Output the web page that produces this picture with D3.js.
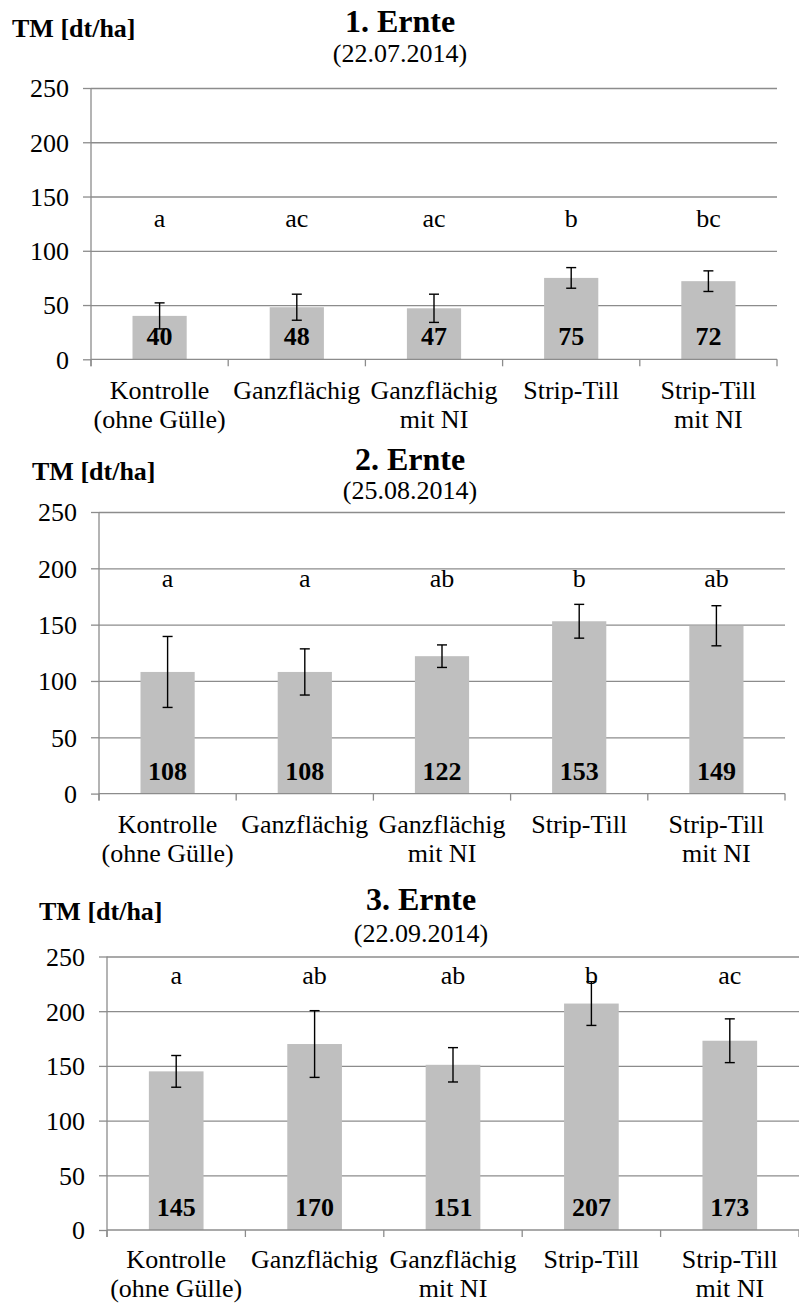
<!DOCTYPE html>
<html lang="de">
<head>
<meta charset="UTF-8">
<title>TM Ernte</title>
<style>
  body { margin: 0; background: #fff; }
  svg text { font-family: "Liberation Serif", "Times New Roman", serif; fill: #000; }
</style>
</head>
<body>
<script src="https://cdn.jsdelivr.net/npm/d3@7"></script>
<script>
// categories (two lines each)
var categories = ["Kontrolle|(ohne Gülle)", "Ganzflächig|", "Ganzflächig|mit NI", "Strip-Till|", "Strip-Till|mit NI"];
var yTicks = [0, 50, 100, 150, 200, 250];

// 1. Ernte
var values1 = [40, 48, 47, 75, 72];
var errors1 = [12, 12, 13, 9.5, 9.5];
var letters1 = ["a", "ac", "ac", "b", "bc"];
// 2. Ernte
var values2 = [108, 108, 122, 153, 149];
var errors2 = [31.5, 20.5, 10, 15, 17.8];
var letters2 = ["a", "a", "ab", "b", "ab"];
// 3. Ernte
var values3 = [145, 170, 151, 207, 173];
var errors3 = [14.5, 30.5, 15.7, 20, 20];
var letters3 = ["a", "ab", "ab", "b", "ac"];

var titles = ["1. Ernte", "2. Ernte", "3. Ernte"];
var dates = ["(22.07.2014)", "(25.08.2014)", "(22.09.2014)"];

// layout of each panel on the page
var panels = [
  {values: values1, errors: errors1, letters: letters1, left: 91, right: 777, top: 88, zero: 359.3,
   tm: [12, 37], titleX: 400, titleY: 32, dateY: 62, letterY: 227, catY: 399},
  {values: values2, errors: errors2, letters: letters2, left: 99, right: 785, top: 512, zero: 793.6,
   tm: [32, 480], titleX: 410, titleY: 470, dateY: 499, letterY: 587, catY: 833},
  {values: values3, errors: errors3, letters: letters3, left: 107, right: 799, top: 956.5, zero: 1230,
   tm: [39, 920], titleX: 421, titleY: 910, dateY: 942, letterY: 984, catY: 1268}
];

var gridColor = "#8c8c8c";
var barColor = "#bfbfbf";

var svg = d3.select("body").append("svg")
  .attr("width", 799)
  .attr("height", 1305);

panels.forEach(function(p, pi) {
  var g = svg.append("g");

  var x = d3.scaleBand()
    .domain(categories)
    .range([p.left, p.right])
    .padding(0);

  var y = d3.scaleLinear()
    .domain([0, 250])
    .range([p.zero, p.top]);

  // gridlines
  g.append("g")
    .attr("transform", "translate(" + p.left + ",0)")
    .call(d3.axisLeft(y).tickValues(yTicks.slice(1)).tickSize(-(p.right - p.left)).tickFormat(""))
    .call(function(s) {
      s.select(".domain").remove();
      s.selectAll("line").attr("stroke", gridColor).attr("stroke-width", 1.3);
    });

  // bars
  var bw = x.bandwidth() * 0.395;
  g.selectAll(".bar")
    .data(p.values)
    .enter()
    .append("rect")
    .attr("class", "bar")
    .attr("x", function(d, i) { return x(categories[i]) + x.bandwidth() / 2 - bw / 2; })
    .attr("y", function(d) { return y(d); })
    .attr("width", bw)
    .attr("height", function(d) { return y(0) - y(d); })
    .attr("fill", barColor);

  // y axis
  var yAxis = g.append("g")
    .attr("transform", "translate(" + p.left + ",0)")
    .call(d3.axisLeft(y).tickValues(yTicks).tickSize(8).tickPadding(14).tickSizeOuter(0));
  yAxis.select(".domain").attr("stroke", gridColor).attr("stroke-width", 1.3)
    .attr("d", "M0," + (y(250)) + "V" + (y(0) + 7));
  yAxis.selectAll(".tick line").attr("stroke", gridColor).attr("stroke-width", 1.3);
  yAxis.selectAll(".tick text").style("font-size", "26px").attr("dy", "0.34em");

  // x axis line and boundary ticks
  g.append("line")
    .attr("x1", p.left).attr("x2", p.right)
    .attr("y1", y(0)).attr("y2", y(0))
    .attr("stroke", gridColor).attr("stroke-width", 1.3);
  var bounds = categories.map(function(c) { return x(c); }).concat([x.range()[1]]);
  g.selectAll(".xt")
    .data(bounds)
    .enter()
    .append("line")
    .attr("x1", function(d) { return d; }).attr("x2", function(d) { return d; })
    .attr("y1", y(0)).attr("y2", y(0) + 7)
    .attr("stroke", gridColor).attr("stroke-width", 1.3);

  // error bars
  var eb = g.selectAll(".err")
    .data(p.values)
    .enter()
    .append("g")
    .attr("class", "err");
  eb.append("line")
    .attr("x1", function(d, i) { return x(categories[i]) + x.bandwidth() / 2; })
    .attr("x2", function(d, i) { return x(categories[i]) + x.bandwidth() / 2; })
    .attr("y1", function(d, i) { return y(d + p.errors[i]); })
    .attr("y2", function(d, i) { return y(d - p.errors[i]); });
  [1, -1].forEach(function(sgn) {
    eb.append("line")
      .attr("x1", function(d, i) { return x(categories[i]) + x.bandwidth() / 2 - 5; })
      .attr("x2", function(d, i) { return x(categories[i]) + x.bandwidth() / 2 + 5; })
      .attr("y1", function(d, i) { return y(d + sgn * p.errors[i]); })
      .attr("y2", function(d, i) { return y(d + sgn * p.errors[i]); });
  });
  eb.selectAll("line").attr("stroke", "#000").attr("stroke-width", 1.4);

  // value labels inside bars
  g.selectAll(".val")
    .data(p.values)
    .enter()
    .append("text")
    .attr("x", function(d, i) { return x(categories[i]) + x.bandwidth() / 2; })
    .attr("y", y(0) - 14)
    .attr("text-anchor", "middle")
    .style("font-size", "26px")
    .style("font-weight", "bold")
    .text(function(d) { return d; });

  // significance letters
  g.selectAll(".let")
    .data(p.letters)
    .enter()
    .append("text")
    .attr("x", function(d, i) { return x(categories[i]) + x.bandwidth() / 2; })
    .attr("y", p.letterY)
    .attr("text-anchor", "middle")
    .style("font-size", "26px")
    .text(function(d) { return d; });

  // category labels
  var cl = g.selectAll(".cat")
    .data(categories)
    .enter()
    .append("text")
    .attr("text-anchor", "middle")
    .style("font-size", "26px");
  cl.append("tspan")
    .attr("x", function(d) { return x(d) + x.bandwidth() / 2; })
    .attr("y", p.catY)
    .text(function(d) { return d.split("|")[0]; });
  cl.append("tspan")
    .attr("x", function(d) { return x(d) + x.bandwidth() / 2; })
    .attr("y", p.catY + 29)
    .text(function(d) { return d.split("|")[1]; });

  // titles
  g.append("text")
    .attr("x", p.titleX).attr("y", p.titleY)
    .attr("text-anchor", "middle")
    .style("font-size", "32px").style("font-weight", "bold")
    .text(titles[pi]);
  g.append("text")
    .attr("x", p.titleX).attr("y", p.dateY)
    .attr("text-anchor", "middle")
    .style("font-size", "26px")
    .text(dates[pi]);
  g.append("text")
    .attr("x", p.tm[0]).attr("y", p.tm[1])
    .style("font-size", "26px").style("font-weight", "bold")
    .text("TM [dt/ha]");
});
</script>
</body>
</html>
